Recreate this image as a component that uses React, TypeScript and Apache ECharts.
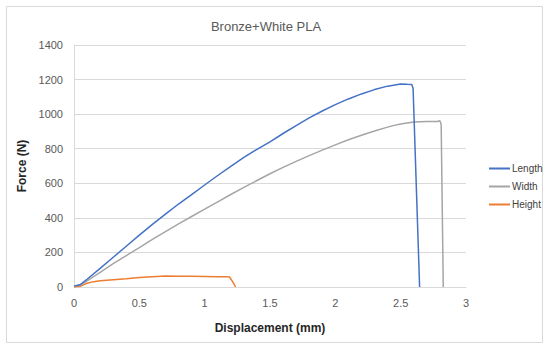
import React, { useEffect, useRef } from "react";
import * as echarts from "echarts";

const titleText = "Bronze+White PLA";
const xTicks = { min: 0, max: 3, interval: 0.5 };
const yTicks = { min: 0, max: 1400, interval: 200 };

const lengthX = [0, 0.05, 0.1, 0.2, 0.3, 0.4, 0.5, 0.6, 0.7, 0.8, 0.9, 1.0, 1.1, 1.2, 1.3, 1.4, 1.5, 1.6, 1.7, 1.8, 1.9, 2.0, 2.1, 2.2, 2.3, 2.4, 2.5, 2.55, 2.585, 2.595, 2.645];
const lengthY = [5, 15, 45, 108, 172, 236, 300, 362, 422, 480, 535, 590, 645, 698, 750, 796, 840, 888, 934, 978, 1018, 1055, 1088, 1117, 1142, 1162, 1175, 1173, 1172, 1150, 0];

const widthX = [0, 0.05, 0.1, 0.2, 0.3, 0.4, 0.5, 0.6, 0.7, 0.8, 0.9, 1.0, 1.1, 1.2, 1.3, 1.4, 1.5, 1.6, 1.7, 1.8, 1.9, 2.0, 2.1, 2.2, 2.3, 2.4, 2.45, 2.5, 2.6, 2.7, 2.78, 2.8, 2.81, 2.826];
const widthY = [5, 12, 35, 85, 135, 182, 228, 275, 320, 365, 408, 450, 493, 535, 576, 616, 655, 692, 727, 760, 792, 822, 852, 878, 902, 925, 935, 943, 954, 958, 958, 962, 940, 0];

const heightX = [0, 0.05, 0.1, 0.15, 0.2, 0.3, 0.4, 0.5, 0.6, 0.7, 0.8, 0.9, 1.0, 1.1, 1.17, 1.19, 1.215, 1.237];
const heightY = [0, 5, 22, 31, 36, 42, 48, 55, 60, 63, 62, 62, 61, 60, 60, 58, 30, 0];

const seriesNames = ["Length", "Width", "Height"];
const seriesColors = ["#4472C4", "#A5A5A5", "#ED7D31"];

const pair = (xs: number[], ys: number[]) => xs.map((x, i) => [x, ys[i]]);

export default function App() {
  const ref = useRef<HTMLDivElement>(null);
  useEffect(() => {
    if (!ref.current) return;
    const chart = echarts.init(ref.current, undefined, { renderer: "svg" });
    const font = "'Liberation Sans', Arial, sans-serif";
    const datasets = [pair(lengthX, lengthY), pair(widthX, widthY), pair(heightX, heightY)];
    chart.setOption({
      animation: false,
      backgroundColor: "#ffffff",
      textStyle: { fontFamily: font },
      title: {
        text: titleText,
        left: 261,
        top: 15,
        textAlign: "center",
        textStyle: { fontSize: 13, fontWeight: "normal", color: "#595959", fontFamily: font },
      },
      graphic: [
        {
          type: "rect",
          shape: { x: 6.5, y: 6.5, width: 536, height: 336 },
          style: { fill: "none", stroke: "#D9D9D9", lineWidth: 1 },
          silent: true,
        },
      ],
      legend: {
        orient: "vertical",
        left: 484,
        top: 157,
        itemWidth: 21,
        itemHeight: 2,
        itemGap: 5,
        icon: "rect",
        textStyle: { fontSize: 10, color: "#404040", fontFamily: font, lineHeight: 13, padding: [0, 0, 0, -3] },
        data: seriesNames,
      },
      grid: { left: 74, top: 45, width: 392, height: 242 },
      xAxis: {
        type: "value",
        min: xTicks.min,
        max: xTicks.max,
        interval: xTicks.interval,
        name: "Displacement (mm)",
        nameLocation: "middle",
        nameGap: 35,
        nameTextStyle: { fontSize: 12, fontWeight: "bold", color: "#262626", fontFamily: font },
        axisLine: { show: true, lineStyle: { color: "#D9D9D9", width: 1 } },
        axisTick: { show: false },
        splitLine: { show: false },
        axisLabel: { fontSize: 11, color: "#595959", margin: 10, fontFamily: font },
      },
      yAxis: {
        type: "value",
        min: yTicks.min,
        max: yTicks.max,
        interval: yTicks.interval,
        name: "Force (N)",
        nameLocation: "middle",
        nameGap: 32,
        nameRotate: 90,
        nameTextStyle: { fontSize: 12, fontWeight: "bold", color: "#262626", fontFamily: font },
        axisLine: { show: true, lineStyle: { color: "#D9D9D9", width: 1 } },
        axisTick: { show: false },
        splitLine: { show: true, lineStyle: { color: "#D9D9D9", width: 1 } },
        axisLabel: { fontSize: 11, color: "#595959", margin: 11, fontFamily: font, formatter: (v: number) => String(v) },
      },
      series: seriesNames.map((name, i) => ({
        name,
        type: "line",
        data: datasets[i],
        showSymbol: false,
        symbol: "none",
        lineStyle: { color: seriesColors[i], width: 1.5 },
        itemStyle: { color: seriesColors[i] },
        z: 3 - i,
      })),
    });
    return () => chart.dispose();
  }, []);
  return <div ref={ref} style={{ width: 550, height: 349, position: "fixed", left: 0, top: 0 }} />;
}
